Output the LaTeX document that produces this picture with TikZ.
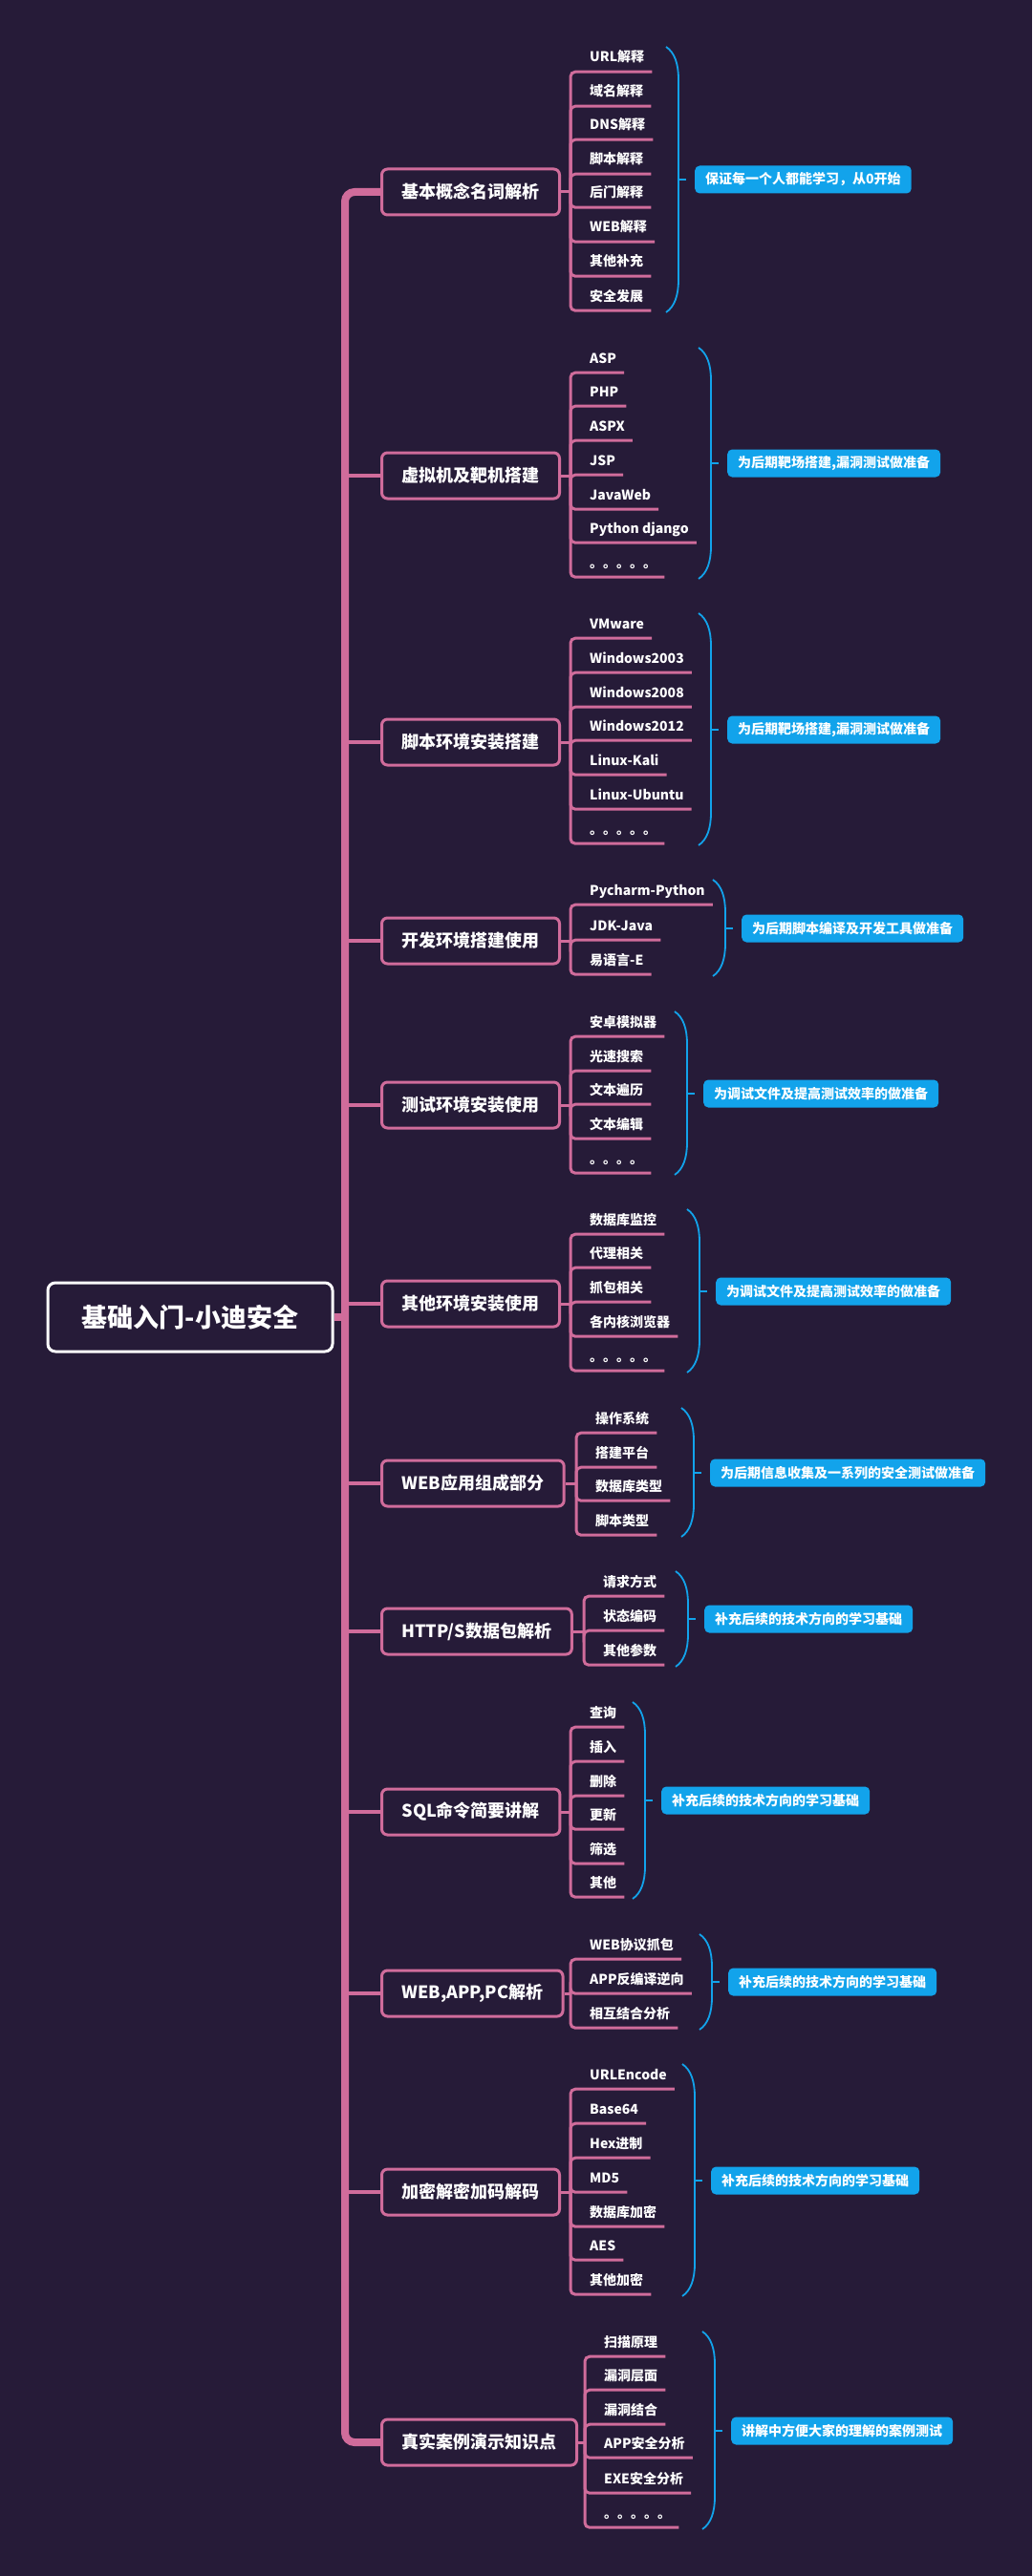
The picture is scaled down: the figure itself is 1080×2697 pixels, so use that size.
\documentclass[tikz,border=0pt]{standalone}
\usepackage{fontspec}
\setmainfont{Noto Sans CJK SC}
\usetikzlibrary{positioning}
\definecolor{mapbg}{HTML}{261B38}
\definecolor{mappink}{HTML}{D06C9B}
\definecolor{mapblue}{HTML}{12A3EB}

\begin{document}
\begin{tikzpicture}[x=1pt, y=-1pt,
	rootbox/.style={draw=white, line width=3pt, rounded corners=8pt, fill=mapbg, minimum width=298pt, minimum height=72pt, text=white, font=\bfseries\fontsize{27}{30}\selectfont},
	branchbox/.style={anchor=west, draw=mappink, line width=3pt, rounded corners=6pt, fill=mapbg, inner xsep=21pt, minimum height=48pt, text=white, font=\bfseries\fontsize{18}{20}\selectfont},
	leaf/.style={anchor=west, inner xsep=8pt, inner ysep=0pt, text height=11pt, text depth=3pt, minimum height=28pt, text=white, font=\bfseries\fontsize{14}{16}\selectfont},
	notebox/.style={anchor=west, fill=mapblue, rounded corners=5pt, inner xsep=11pt, minimum height=29pt, text=white, font=\bfseries\fontsize{14}{16}\selectfont},
	trunkline/.style={draw=mappink, line width=8pt, rounded corners=10pt},
	branchline/.style={draw=mappink, line width=4pt},
	leafline/.style={draw=mappink, line width=3pt, rounded corners=5pt},
	notebrace/.style={draw=mapblue, line width=1.8pt}]
	\fill[mapbg] (0,0) rectangle (1080,2697);
	\node (root) [rootbox] at (199,1379) {基础入门-小迪安全};
	\node (b1) [branchbox] at (398,201) {基本概念名词解析};
	\node (b2) [branchbox] at (398,498) {虚拟机及靶机搭建};
	\node (b3) [branchbox] at (398,777) {脚本环境安装搭建};
	\node (b4) [branchbox] at (398,985) {开发环境搭建使用};
	\node (b5) [branchbox] at (398,1157) {测试环境安装使用};
	\node (b6) [branchbox] at (398,1365) {其他环境安装使用};
	\node (b7) [branchbox] at (398,1553) {WEB应用组成部分};
	\node (b8) [branchbox] at (398,1708) {HTTP/S数据包解析};
	\node (b9) [branchbox] at (398,1897) {SQL命令简要讲解};
	\node (b10) [branchbox] at (398,2087) {WEB,APP,PC解析};
	\node (b11) [branchbox] at (398,2295) {加密解密加码解码};
	\node (b12) [branchbox] at (398,2557) {真实案例演示知识点};
	\coordinate (tb) at (361,2557);
	\draw[trunkline] (b1.west) -| (tb) -- (b12.west);
	\draw[trunkline] (root.east) -- (root.east -| tb);
	\draw[branchline] (b2.west) -- (b2.west -| tb);
	\draw[branchline] (b3.west) -- (b3.west -| tb);
	\draw[branchline] (b4.west) -- (b4.west -| tb);
	\draw[branchline] (b5.west) -- (b5.west -| tb);
	\draw[branchline] (b6.west) -- (b6.west -| tb);
	\draw[branchline] (b7.west) -- (b7.west -| tb);
	\draw[branchline] (b8.west) -- (b8.west -| tb);
	\draw[branchline] (b9.west) -- (b9.west -| tb);
	\draw[branchline] (b10.west) -- (b10.west -| tb);
	\draw[branchline] (b11.west) -- (b11.west -| tb);
	\coordinate (v1) at (597,201);
	\coordinate (v2) at (597,498);
	\coordinate (v3) at (597,777);
	\coordinate (v4) at (597,985);
	\coordinate (v5) at (597,1157);
	\coordinate (v6) at (597,1365);
	\coordinate (v7) at (603,1553);
	\coordinate (v8) at (611,1708);
	\coordinate (v9) at (597,1897);
	\coordinate (v10) at (597,2087);
	\coordinate (v11) at (597,2295);
	\coordinate (v12) at (612,2557);
	\node (l1a) [leaf] at (609,61) {URL解释};
	\node (l1b) [leaf] at (609,97) {域名解释};
	\node (l1c) [leaf] at (609,132) {DNS解释};
	\node (l1d) [leaf] at (609,168) {脚本解释};
	\node (l1e) [leaf] at (609,203) {后门解释};
	\node (l1f) [leaf] at (609,239) {WEB解释};
	\node (l1g) [leaf] at (609,275) {其他补充};
	\node (l1h) [leaf] at (609,311) {安全发展};
	\node (l2a) [leaf] at (609,376) {ASP};
	\node (l2b) [leaf] at (609,411) {PHP};
	\node (l2c) [leaf] at (609,447) {ASPX};
	\node (l2d) [leaf] at (609,483) {JSP};
	\node (l2e) [leaf] at (609,519) {JavaWeb};
	\node (l2f) [leaf] at (609,554) {Python django};
	\node (l2g) [leaf] at (609,590) {。。。。。};
	\node (l3a) [leaf] at (609,654) {VMware};
	\node (l3b) [leaf] at (609,690) {Windows2003};
	\node (l3c) [leaf] at (609,726) {Windows2008};
	\node (l3d) [leaf] at (609,761) {Windows2012};
	\node (l3e) [leaf] at (609,797) {Linux-Kali};
	\node (l3f) [leaf] at (609,833) {Linux-Ubuntu};
	\node (l3g) [leaf] at (609,869) {。。。。。};
	\node (l4a) [leaf] at (609,933) {Pycharm-Python};
	\node (l4b) [leaf] at (609,970) {JDK-Java};
	\node (l4c) [leaf] at (609,1006) {易语言-E};
	\node (l5a) [leaf] at (609,1071) {安卓模拟器};
	\node (l5b) [leaf] at (609,1107) {光速搜索};
	\node (l5c) [leaf] at (609,1142) {文本遍历};
	\node (l5d) [leaf] at (609,1178) {文本编辑};
	\node (l5e) [leaf] at (609,1214) {。。。。};
	\node (l6a) [leaf] at (609,1278) {数据库监控};
	\node (l6b) [leaf] at (609,1313) {代理相关};
	\node (l6c) [leaf] at (609,1349) {抓包相关};
	\node (l6d) [leaf] at (609,1385) {各内核浏览器};
	\node (l6e) [leaf] at (609,1421) {。。。。。};
	\node (l7a) [leaf] at (615,1486) {操作系统};
	\node (l7b) [leaf] at (615,1522) {搭建平台};
	\node (l7c) [leaf] at (615,1557) {数据库类型};
	\node (l7d) [leaf] at (615,1593) {脚本类型};
	\node (l8a) [leaf] at (623,1657) {请求方式};
	\node (l8b) [leaf] at (623,1693) {状态编码};
	\node (l8c) [leaf] at (623,1729) {其他参数};
	\node (l9a) [leaf] at (609,1794) {查询};
	\node (l9b) [leaf] at (609,1830) {插入};
	\node (l9c) [leaf] at (609,1866) {删除};
	\node (l9d) [leaf] at (609,1901) {更新};
	\node (l9e) [leaf] at (609,1937) {筛选};
	\node (l9f) [leaf] at (609,1972) {其他};
	\node (l10a) [leaf] at (609,2037) {WEB协议抓包};
	\node (l10b) [leaf] at (609,2073) {APP反编译逆向};
	\node (l10c) [leaf] at (609,2109) {相互结合分析};
	\node (l11a) [leaf] at (609,2173) {URLEncode};
	\node (l11b) [leaf] at (609,2209) {Base64};
	\node (l11c) [leaf] at (609,2245) {Hex进制};
	\node (l11d) [leaf] at (609,2281) {MD5};
	\node (l11e) [leaf] at (609,2317) {数据库加密};
	\node (l11f) [leaf] at (609,2352) {AES};
	\node (l11g) [leaf] at (609,2388) {其他加密};
	\node (l12a) [leaf] at (624,2453) {扫描原理};
	\node (l12b) [leaf] at (624,2488) {漏洞层面};
	\node (l12c) [leaf] at (624,2524) {漏洞结合};
	\node (l12d) [leaf] at (624,2559) {APP安全分析};
	\node (l12e) [leaf] at (624,2596) {EXE安全分析};
	\node (l12f) [leaf] at (624,2632) {。。。。。};
	\draw[leafline] (b1.east) -- (v1);
	\draw[leafline] (v1) |- (l1a.south east);
	\draw[leafline] (v1) |- (l1b.south east);
	\draw[leafline] (v1) |- (l1c.south east);
	\draw[leafline] (v1) |- (l1d.south east);
	\draw[leafline] (v1) |- (l1e.south east);
	\draw[leafline] (v1) |- (l1f.south east);
	\draw[leafline] (v1) |- (l1g.south east);
	\draw[leafline] (v1) |- (l1h.south east);
	\draw[leafline] (b2.east) -- (v2);
	\draw[leafline] (v2) |- (l2a.south east);
	\draw[leafline] (v2) |- (l2b.south east);
	\draw[leafline] (v2) |- (l2c.south east);
	\draw[leafline] (v2) |- (l2d.south east);
	\draw[leafline] (v2) |- (l2e.south east);
	\draw[leafline] (v2) |- (l2f.south east);
	\draw[leafline] (v2) |- (l2g.south east);
	\draw[leafline] (b3.east) -- (v3);
	\draw[leafline] (v3) |- (l3a.south east);
	\draw[leafline] (v3) |- (l3b.south east);
	\draw[leafline] (v3) |- (l3c.south east);
	\draw[leafline] (v3) |- (l3d.south east);
	\draw[leafline] (v3) |- (l3e.south east);
	\draw[leafline] (v3) |- (l3f.south east);
	\draw[leafline] (v3) |- (l3g.south east);
	\draw[leafline] (b4.east) -- (v4);
	\draw[leafline] (v4) |- (l4a.south east);
	\draw[leafline] (v4) |- (l4b.south east);
	\draw[leafline] (v4) |- (l4c.south east);
	\draw[leafline] (b5.east) -- (v5);
	\draw[leafline] (v5) |- (l5a.south east);
	\draw[leafline] (v5) |- (l5b.south east);
	\draw[leafline] (v5) |- (l5c.south east);
	\draw[leafline] (v5) |- (l5d.south east);
	\draw[leafline] (v5) |- (l5e.south east);
	\draw[leafline] (b6.east) -- (v6);
	\draw[leafline] (v6) |- (l6a.south east);
	\draw[leafline] (v6) |- (l6b.south east);
	\draw[leafline] (v6) |- (l6c.south east);
	\draw[leafline] (v6) |- (l6d.south east);
	\draw[leafline] (v6) |- (l6e.south east);
	\draw[leafline] (b7.east) -- (v7);
	\draw[leafline] (v7) |- (l7a.south east);
	\draw[leafline] (v7) |- (l7b.south east);
	\draw[leafline] (v7) |- (l7c.south east);
	\draw[leafline] (v7) |- (l7d.south east);
	\draw[leafline] (b8.east) -- (v8);
	\draw[leafline] (v8) |- (l8a.south east);
	\draw[leafline] (v8) |- (l8b.south east);
	\draw[leafline] (v8) |- (l8c.south east);
	\draw[leafline] (b9.east) -- (v9);
	\draw[leafline] (v9) |- (l9a.south east);
	\draw[leafline] (v9) |- (l9b.south east);
	\draw[leafline] (v9) |- (l9c.south east);
	\draw[leafline] (v9) |- (l9d.south east);
	\draw[leafline] (v9) |- (l9e.south east);
	\draw[leafline] (v9) |- (l9f.south east);
	\draw[leafline] (b10.east) -- (v10);
	\draw[leafline] (v10) |- (l10a.south east);
	\draw[leafline] (v10) |- (l10b.south east);
	\draw[leafline] (v10) |- (l10c.south east);
	\draw[leafline] (b11.east) -- (v11);
	\draw[leafline] (v11) |- (l11a.south east);
	\draw[leafline] (v11) |- (l11b.south east);
	\draw[leafline] (v11) |- (l11c.south east);
	\draw[leafline] (v11) |- (l11d.south east);
	\draw[leafline] (v11) |- (l11e.south east);
	\draw[leafline] (v11) |- (l11f.south east);
	\draw[leafline] (v11) |- (l11g.south east);
	\draw[leafline] (b12.east) -- (v12);
	\draw[leafline] (v12) |- (l12a.south east);
	\draw[leafline] (v12) |- (l12b.south east);
	\draw[leafline] (v12) |- (l12c.south east);
	\draw[leafline] (v12) |- (l12d.south east);
	\draw[leafline] (v12) |- (l12e.south east);
	\draw[leafline] (v12) |- (l12f.south east);
	\node (n1) [notebox] at (727,188) {保证每一个人都能学习，从0开始};
	\node (n2) [notebox] at (761,485) {为后期靶场搭建,漏洞测试做准备};
	\node (n3) [notebox] at (761,764) {为后期靶场搭建,漏洞测试做准备};
	\node (n4) [notebox] at (776,972) {为后期脚本编译及开发工具做准备};
	\node (n5) [notebox] at (736,1145) {为调试文件及提高测试效率的做准备};
	\node (n6) [notebox] at (749,1352) {为调试文件及提高测试效率的做准备};
	\node (n7) [notebox] at (743,1542) {为后期信息收集及一系列的安全测试做准备};
	\node (n8) [notebox] at (737,1695) {补充后续的技术方向的学习基础};
	\node (n9) [notebox] at (692,1885) {补充后续的技术方向的学习基础};
	\node (n10) [notebox] at (762,2075) {补充后续的技术方向的学习基础};
	\node (n11) [notebox] at (744,2283) {补充后续的技术方向的学习基础};
	\node (n12) [notebox] at (765,2545) {讲解中方便大家的理解的案例测试};
	\draw[notebrace] (697,49) .. controls +(9,6) and +(0,-16) .. (710,83) -- (710,293) .. controls +(0,16) and +(9,-6) .. (697,327);
	\draw[notebrace] (731,364) .. controls +(9,6) and +(0,-16) .. (744,398) -- (744,572) .. controls +(0,16) and +(9,-6) .. (731,606);
	\draw[notebrace] (731,642) .. controls +(9,6) and +(0,-16) .. (744,676) -- (744,851) .. controls +(0,16) and +(9,-6) .. (731,885);
	\draw[notebrace] (746,921) .. controls +(9,6) and +(0,-16) .. (759,955) -- (759,988) .. controls +(0,16) and +(9,-6) .. (746,1022);
	\draw[notebrace] (706,1059) .. controls +(9,6) and +(0,-16) .. (719,1093) -- (719,1196) .. controls +(0,16) and +(9,-6) .. (706,1230);
	\draw[notebrace] (719,1266) .. controls +(9,6) and +(0,-16) .. (732,1300) -- (732,1403) .. controls +(0,16) and +(9,-6) .. (719,1437);
	\draw[notebrace] (713,1474) .. controls +(9,6) and +(0,-16) .. (726,1508) -- (726,1575) .. controls +(0,16) and +(9,-6) .. (713,1609);
	\draw[notebrace] (707,1645) .. controls +(9,6) and +(0,-16) .. (720,1679) -- (720,1711) .. controls +(0,16) and +(9,-6) .. (707,1745);
	\draw[notebrace] (662,1782) .. controls +(9,6) and +(0,-16) .. (675,1816) -- (675,1954) .. controls +(0,16) and +(9,-6) .. (662,1988);
	\draw[notebrace] (732,2025) .. controls +(9,6) and +(0,-16) .. (745,2059) -- (745,2091) .. controls +(0,16) and +(9,-6) .. (732,2125);
	\draw[notebrace] (714,2161) .. controls +(9,6) and +(0,-16) .. (727,2195) -- (727,2370) .. controls +(0,16) and +(9,-6) .. (714,2404);
	\draw[notebrace] (735,2441) .. controls +(9,6) and +(0,-16) .. (748,2475) -- (748,2614) .. controls +(0,16) and +(9,-6) .. (735,2648);
	\coordinate (k1) at (710,188);
	\coordinate (k2) at (744,485);
	\coordinate (k3) at (744,764);
	\coordinate (k4) at (759,972);
	\coordinate (k5) at (719,1145);
	\coordinate (k6) at (732,1352);
	\coordinate (k7) at (726,1542);
	\coordinate (k8) at (720,1695);
	\coordinate (k9) at (675,1885);
	\coordinate (k10) at (745,2075);
	\coordinate (k11) at (727,2283);
	\coordinate (k12) at (748,2545);
	\draw[notebrace, shorten >=9pt] (k1) -- (n1.west);
	\draw[notebrace, shorten >=9pt] (k2) -- (n2.west);
	\draw[notebrace, shorten >=9pt] (k3) -- (n3.west);
	\draw[notebrace, shorten >=9pt] (k4) -- (n4.west);
	\draw[notebrace, shorten >=9pt] (k5) -- (n5.west);
	\draw[notebrace, shorten >=9pt] (k6) -- (n6.west);
	\draw[notebrace, shorten >=9pt] (k7) -- (n7.west);
	\draw[notebrace, shorten >=9pt] (k8) -- (n8.west);
	\draw[notebrace, shorten >=9pt] (k9) -- (n9.west);
	\draw[notebrace, shorten >=9pt] (k10) -- (n10.west);
	\draw[notebrace, shorten >=9pt] (k11) -- (n11.west);
	\draw[notebrace, shorten >=9pt] (k12) -- (n12.west);
\end{tikzpicture}
\end{document}
